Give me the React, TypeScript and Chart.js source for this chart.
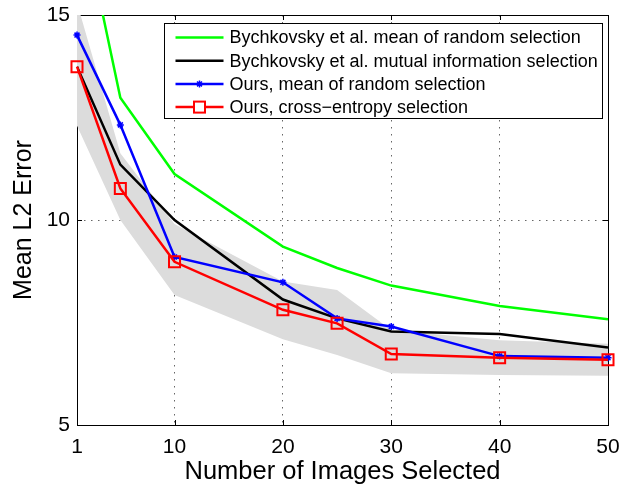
import React, { useEffect, useRef } from "react";
import { Chart, registerables } from "chart.js";

Chart.register(...registerables);

// ---- data ----
const xValues = [1, 5, 10, 20, 25, 30, 40, 50];
const bychkovskyRandom = [18.0, 12.98, 11.12, 9.35, 8.83, 8.4, 7.9, 7.58];
const bychkovskyMutual = [13.74, 11.35, 10.0, 8.06, 7.6, 7.28, 7.22, 6.89];
const oursRandom = [14.51, 12.32, 9.1, 8.48, 7.6, 7.4, 6.68, 6.64];
const oursCrossEntropy = [13.74, 10.77, 8.98, 7.81, 7.48, 6.73, 6.64, 6.59];
const bandUpper = [15.3, 11.63, 9.9, 8.5, 8.29, 7.32, 7.07, 6.98];
const bandLower = [12.3, 10.0, 8.17, 7.09, 6.71, 6.26, 6.22, 6.2];

const xTickValues = [1, 10, 20, 30, 40, 50];
const yTickValues = [5, 10, 15];
const seriesLabels = [
  "Bychkovsky et al. mean of random selection",
  "Bychkovsky et al. mutual information selection",
  "Ours, mean of random selection",
  "Ours, cross\u2212entropy selection",
];
const xTitle = "Number of Images Selected";
const yTitle = "Mean L2 Error";

const FONT = '"Liberation Sans", Arial, Helvetica, sans-serif';
const COLORS = ["#00ff00", "#000000", "#0000ff", "#ff0000"];
const GRID_COLOR = "rgba(0,0,0,0.6)";
const GRID_DASH = [1.5, 5.5];

const toPoints = (ys: number[]) => xValues.map((x, i) => ({ x, y: ys[i] }));

function drawStar(ctx: CanvasRenderingContext2D, x: number, y: number, r: number) {
  ctx.beginPath();
  ctx.moveTo(x - r, y);
  ctx.lineTo(x + r, y);
  ctx.moveTo(x, y - r);
  ctx.lineTo(x, y + r);
  const d = r * Math.SQRT1_2;
  ctx.moveTo(x - d, y - d);
  ctx.lineTo(x + d, y + d);
  ctx.moveTo(x - d, y + d);
  ctx.lineTo(x + d, y - d);
  ctx.stroke();
}

const framePlugin = {
  id: "matlabFrame",
  beforeDatasetsDraw(chart: any) {
    const { ctx, chartArea, scales } = chart;
    const { left, right, top, bottom } = chartArea;
    ctx.save();
    ctx.strokeStyle = "#000";
    ctx.lineWidth = 1;
    ctx.setLineDash([]);
    ctx.strokeRect(Math.round(left) + 0.5, Math.round(top) + 0.5, Math.round(right - left), Math.round(bottom - top));
    const L = 5;
    ctx.beginPath();
    for (const v of xTickValues) {
      const px = Math.round(scales.x.getPixelForValue(v)) + 0.5;
      ctx.moveTo(px, bottom);
      ctx.lineTo(px, bottom - L);
      ctx.moveTo(px, top);
      ctx.lineTo(px, top + L);
    }
    for (const v of yTickValues) {
      const py = Math.round(scales.y.getPixelForValue(v)) + 0.5;
      ctx.moveTo(left, py);
      ctx.lineTo(left + L, py);
      ctx.moveTo(right, py);
      ctx.lineTo(right - L, py);
    }
    ctx.stroke();
    ctx.restore();
  },
  afterDatasetsDraw(chart: any) {
    const { ctx, chartArea } = chart;
    const boxLeft = Math.round(chartArea.left + 87) + 0.5;
    const boxTop = Math.round(chartArea.top + 8) + 0.5;
    const boxW = 438;
    const boxH = 95;
    ctx.save();
    ctx.fillStyle = "#fff";
    ctx.fillRect(boxLeft, boxTop, boxW, boxH);
    ctx.strokeStyle = "#000";
    ctx.lineWidth = 1;
    ctx.strokeRect(boxLeft, boxTop, boxW, boxH);
    ctx.font = `18px ${FONT}`;
    ctx.textBaseline = "middle";
    ctx.textAlign = "left";
    const rowH = 23.2;
    for (let i = 0; i < seriesLabels.length; i++) {
      const cy = boxTop + 14 + i * rowH;
      const x0 = boxLeft + 11;
      const x1 = boxLeft + 59;
      const cx = (x0 + x1) / 2;
      ctx.strokeStyle = COLORS[i];
      ctx.lineWidth = 2.5;
      ctx.beginPath();
      ctx.moveTo(x0, cy);
      ctx.lineTo(x1, cy);
      ctx.stroke();
      if (i === 2) {
        ctx.lineWidth = 1.5;
        drawStar(ctx, cx, cy, 3.5);
      }
      if (i === 3) {
        ctx.lineWidth = 2;
        ctx.fillStyle = "#fff";
        ctx.fillRect(cx - 5.5, cy - 5.5, 11, 11);
        ctx.strokeRect(cx - 5.5, cy - 5.5, 11, 11);
      }
      ctx.fillStyle = "#000";
      ctx.fillText(seriesLabels[i], boxLeft + 65, cy + 1);
    }
    ctx.restore();
  },
};

export default function App() {
  const canvasRef = useRef<HTMLCanvasElement | null>(null);

  useEffect(() => {
    if (!canvasRef.current) return;
    const chart = new Chart(canvasRef.current, {
      type: "line",
      data: {
        datasets: [
          {
            label: seriesLabels[3],
            data: toPoints(oursCrossEntropy),
            borderColor: COLORS[3],
            backgroundColor: "rgba(0,0,0,0)",
            borderWidth: 2.5,
            pointStyle: "rect",
            pointRadius: 7.8,
            pointBorderWidth: 2,
            pointBorderColor: COLORS[3],
            pointBackgroundColor: "rgba(0,0,0,0)",
            tension: 0,
            clip: false,
          },
          {
            label: seriesLabels[2],
            data: toPoints(oursRandom),
            borderColor: COLORS[2],
            backgroundColor: COLORS[2],
            borderWidth: 2.5,
            pointStyle: "star",
            pointRadius: 3.5,
            pointBorderWidth: 1.5,
            pointBorderColor: COLORS[2],
            tension: 0,
            clip: false,
          },
          {
            label: seriesLabels[1],
            data: toPoints(bychkovskyMutual),
            borderColor: COLORS[1],
            borderWidth: 2.5,
            pointRadius: 0,
            tension: 0,
          },
          {
            label: seriesLabels[0],
            data: toPoints(bychkovskyRandom),
            borderColor: COLORS[0],
            borderWidth: 2.5,
            pointRadius: 0,
            tension: 0,
            clip: 0,
          },
          {
            label: "band upper",
            data: toPoints(bandUpper),
            borderWidth: 0,
            borderColor: "rgba(0,0,0,0)",
            backgroundColor: "#dcdcdc",
            pointRadius: 0,
            fill: "+1",
            tension: 0,
            clip: 0,
          },
          {
            label: "band lower",
            data: toPoints(bandLower),
            borderWidth: 0,
            borderColor: "rgba(0,0,0,0)",
            pointRadius: 0,
            fill: false,
            tension: 0,
            clip: 0,
          },
        ],
      },
      options: {
        animation: false,
        responsive: false,
        events: [],
        layout: { padding: { left: 0, right: 24, top: 15, bottom: 0 } },
        plugins: {
          legend: { display: false },
          tooltip: { enabled: false },
        },
        scales: {
          x: {
            type: "linear",
            min: 1,
            max: 50,
            afterBuildTicks: (s: any) => {
              s.ticks = xTickValues.map((v) => ({ value: v }));
            },
            afterFit: (s: any) => {
              s.height = 60;
            },
            ticks: {
              color: "#000",
              font: { size: 21, family: FONT },
              padding: 10,
              maxRotation: 0,
              autoSkip: false,
            },
            grid: { drawTicks: false, color: GRID_COLOR, lineWidth: 1 },
            border: { display: false, dash: GRID_DASH },
            title: {
              display: true,
              text: xTitle,
              color: "#000",
              font: { size: 25.5, family: FONT, lineHeight: 1 },
              padding: { top: 0, bottom: 0 },
            },
          },
          y: {
            type: "linear",
            min: 5,
            max: 15,
            afterBuildTicks: (s: any) => {
              s.ticks = yTickValues.map((v) => ({ value: v }));
            },
            afterFit: (s: any) => {
              s.width = 77;
              s.paddingTop = 0;
              s.paddingBottom = 0;
            },
            ticks: {
              color: "#000",
              font: { size: 21, family: FONT },
              padding: 7,
            },
            grid: { drawTicks: false, color: GRID_COLOR, lineWidth: 1 },
            border: { display: false, dash: GRID_DASH },
            title: {
              display: true,
              text: yTitle,
              color: "#000",
              font: { size: 25, family: FONT, lineHeight: 1 },
              padding: { top: 11.5, bottom: 0 },
            },
          },
        },
      },
      plugins: [framePlugin],
    } as any);
    return () => chart.destroy();
  }, []);

  return (
    <div style={{ position: "fixed", left: 0, top: 0, width: 632, height: 485, background: "#fff" }}>
      <canvas ref={canvasRef} width={632} height={485} style={{ display: "block" }} />
    </div>
  );
}
